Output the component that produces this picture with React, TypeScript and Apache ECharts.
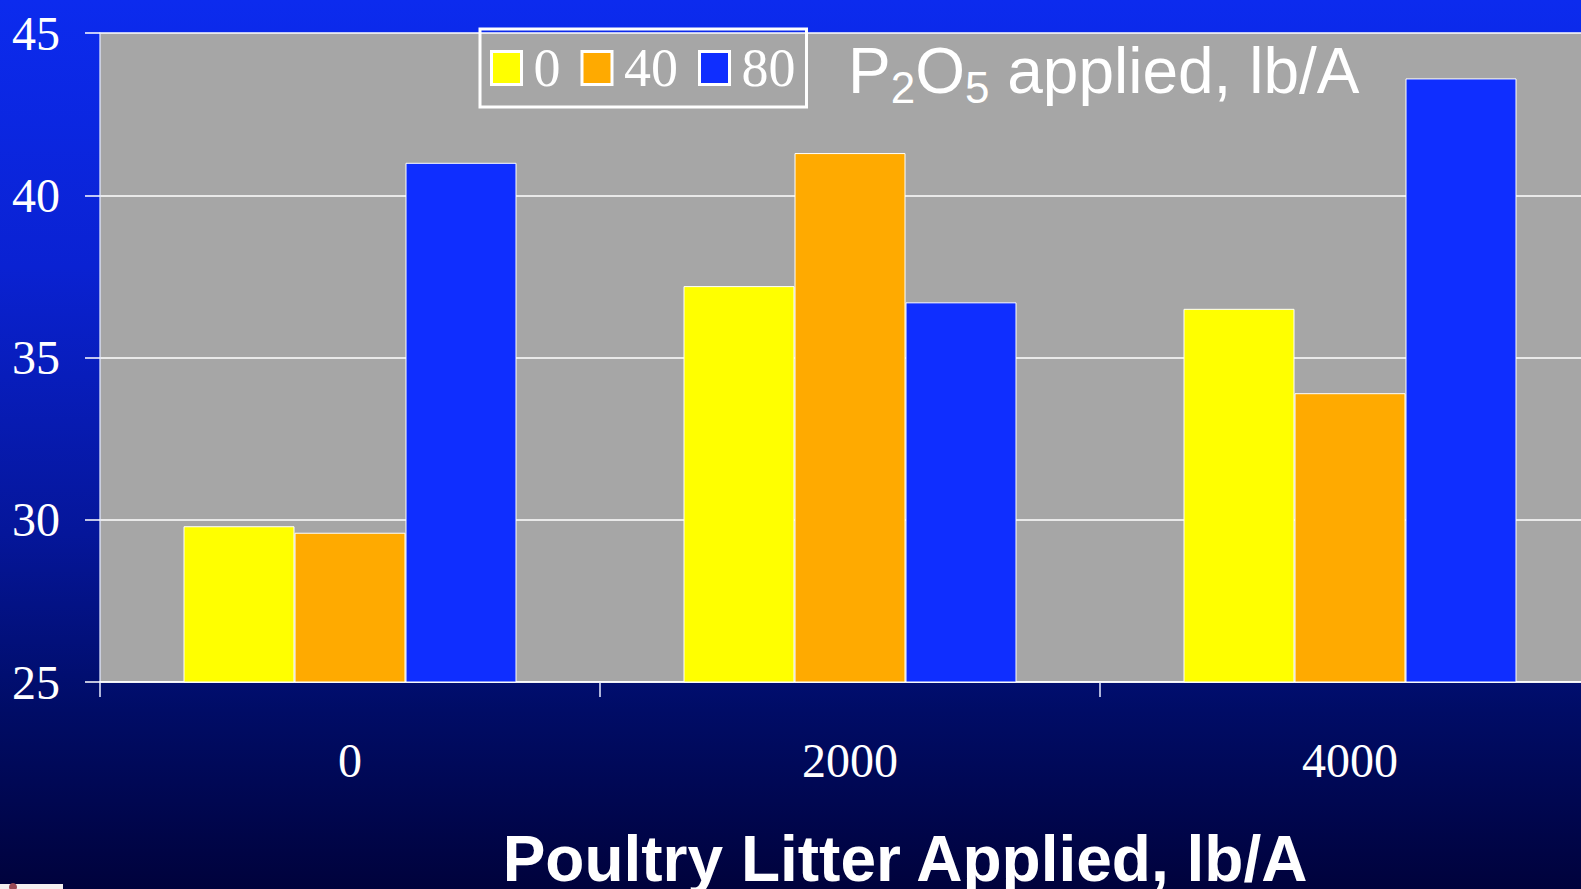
import React, { useEffect, useRef } from "react";
import * as echarts from "echarts";

const categories = ["0", "2000", "4000"];
const seriesNames = ["0", "40", "80"];
const values0 = [29.8, 37.2, 36.5];
const values40 = [29.6, 41.3, 33.9];
const values80 = [41.0, 36.7, 43.6];
const seriesColors = ["#ffff00", "#ffaa00", "#0f2eff"];

const SERIF = "'Liberation Serif', 'Times New Roman', serif";
const SANS = "'Liberation Sans', Arial, sans-serif";

export default function App() {
  const ref = useRef<HTMLDivElement>(null);
  useEffect(() => {
    document.body.style.margin = "0";
    if (!ref.current) return;
    const chart = echarts.init(ref.current, null, { renderer: "svg" });
    const data = [values0, values40, values80];
    chart.setOption({
      animation: false,
      backgroundColor: new echarts.graphic.LinearGradient(0, 0, 0, 1, [
        { offset: 0, color: "#0c2bee" },
        { offset: 0.3, color: "#0a22d2" },
        { offset: 0.6, color: "#05169a" },
        { offset: 0.8, color: "#000c66" },
        { offset: 1, color: "#00023c" },
      ]),
      title: {
        text: "{a|P}{s|2}{a|O}{s|5}{a| applied, lb/A}",
        left: 848,
        top: 39,
        padding: 0,
        textStyle: {
          fontWeight: "normal",
          rich: {
            a: { fontFamily: SANS, fontSize: 64, fontWeight: "normal", color: "#ffffff", lineHeight: 70, verticalAlign: "top" },
            s: { fontFamily: SANS, fontSize: 44, fontWeight: "normal", color: "#ffffff", lineHeight: 42, padding: [44, 0, 0, 0], verticalAlign: "bottom" },
          },
        },
      },
      legend: {
        data: seriesNames,
        left: 480,
        top: 29,
        orient: "horizontal",
        padding: [12, 11, 12, 10],
        borderColor: "#ffffff",
        borderWidth: 3,
        itemWidth: 30,
        itemHeight: 33,
        itemGap: 20,
        selectedMode: false,
        icon: "rect",
        itemStyle: { borderColor: "#ffffff", borderWidth: 3 },
        textStyle: { color: "#ffffff", fontFamily: SERIF, fontSize: 54, padding: [0, 0, 0, 7] },
      },
      grid: {
        left: 100,
        top: 33,
        right: -19,
        bottom: 207,
        show: true,
        backgroundColor: "#a6a6a6",
        borderWidth: 0,
        containLabel: false,
        outerBoundsMode: "none",
      },
      xAxis: {
        type: "category",
        data: categories,
        name: "Poultry Litter Applied, lb/A",
        nameLocation: "middle",
        nameGap: 145,
        nameTextStyle: {
          color: "#ffffff",
          fontFamily: SANS,
          fontWeight: "bold",
          fontSize: 64,
          padding: [0, 0, 0, 110],
        },
        axisLine: { show: true, lineStyle: { color: "#ffffff", width: 1.5 } },
        axisTick: { show: true, length: 15, inside: false, alignWithLabel: false, lineStyle: { color: "#e8ecff", width: 1.5 } },
        axisLabel: { color: "#ffffff", fontFamily: SERIF, fontSize: 48, margin: 54 },
        splitLine: { show: false },
      },
      yAxis: {
        type: "value",
        min: 25,
        max: 45,
        interval: 5,
        axisLine: { show: true, lineStyle: { color: "rgba(225,230,255,0.85)", width: 1.5 } },
        axisTick: { show: true, length: 15, inside: false, lineStyle: { color: "#ffffff", width: 1.5 } },
        axisLabel: { color: "#ffffff", fontFamily: SERIF, fontSize: 48, margin: 40 },
        splitLine: { show: true, lineStyle: { color: "#ffffff", width: 1.5 } },
      },
      series: seriesNames.map((name, i) => ({
        name,
        type: "bar",
        data: data[i],
        barWidth: 111,
        barGap: "0%",
        itemStyle: { color: seriesColors[i], borderColor: "#ffffff", borderWidth: 1 },
      })),
      graphic: [
        { type: "rect", left: 0, top: 884, shape: { width: 63, height: 5 }, style: { fill: "#f4f0f0" }, z: 10 },
        { type: "circle", left: 9, top: 883, shape: { r: 4 }, style: { fill: "#9a4a55" }, z: 11 },
      ],
    });
    return () => chart.dispose();
  }, []);
  return <div ref={ref} style={{ position: "absolute", left: 0, top: 0, width: 1581, height: 889 }} />;
}
